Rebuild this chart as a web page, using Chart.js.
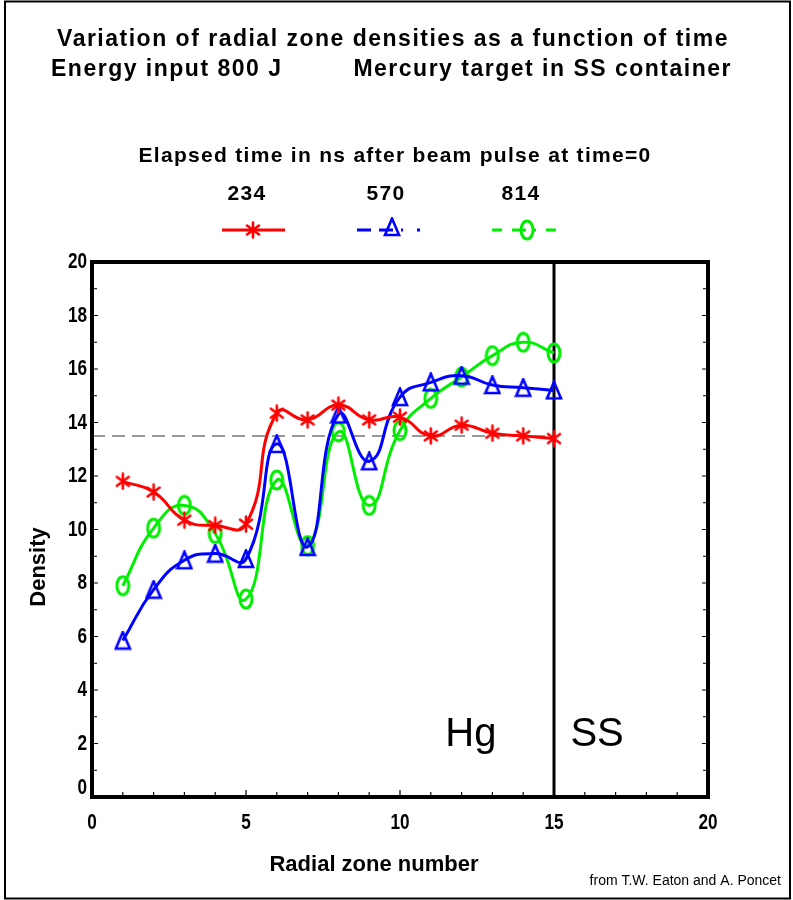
<!DOCTYPE html>
<html>
<head>
<meta charset="utf-8">
<script src="https://cdn.jsdelivr.net/npm/chart.js@4.4.1/dist/chart.umd.min.js"></script>
<style>
  html, body { margin: 0; padding: 0; background: #fff; }
  #density { display: block; }
</style>
</head>
<body>
<canvas id="density" width="793" height="900"></canvas>
<script>
// radial zones 1..15 (Hg), container boundary at 15
const zones = [1, 2, 3, 4, 5, 6, 7, 8, 9, 10, 11, 12, 13, 14, 15];
const elapsed_ns = ['234', '570', '814'];
const density_234 = [11.8, 11.4, 10.35, 10.15, 10.2, 14.35, 14.1, 14.65, 14.1, 14.2, 13.5, 13.9, 13.6, 13.5, 13.4];
const density_570 = [5.85, 7.75, 8.85, 9.1, 8.9, 13.2, 9.35, 14.3, 12.55, 14.95, 15.5, 15.75, 15.4, 15.3, 15.2];
const density_814 = [7.9, 10.05, 10.9, 9.85, 7.4, 11.85, 9.4, 13.65, 10.9, 13.7, 14.9, 15.7, 16.5, 17.0, 16.6];
const ref_density = 13.5;
const boundary_zone = 15;
const x_ticks = [0, 5, 10, 15, 20];
const y_ticks = [0, 2, 4, 6, 8, 10, 12, 14, 16, 18, 20];

const red = '#ff0000', blue = '#0000ff', green = '#00ee00';
const bold = (px) => 'bold ' + px + 'px "Liberation Sans", Arial, sans-serif';

// marker images
function marker(w, h, draw) {
  const c = document.createElement('canvas');
  c.width = w; c.height = h;
  const g = c.getContext('2d');
  g.lineCap = 'round';
  draw(g, w / 2, h / 2);
  return c;
}
const star = marker(16, 18, (g, cx, cy) => {
  g.strokeStyle = red; g.lineWidth = 2.6;
  g.beginPath();
  g.moveTo(cx, cy - 7.5); g.lineTo(cx, cy + 7.5);
  g.moveTo(cx - 6, cy - 4.5); g.lineTo(cx + 6, cy + 4.5);
  g.moveTo(cx - 6, cy + 4.5); g.lineTo(cx + 6, cy - 4.5);
  g.stroke();
});
const tri = marker(18, 20, (g, cx, cy) => {
  g.strokeStyle = blue; g.lineWidth = 2.6; g.lineJoin = 'miter';
  g.beginPath();
  g.moveTo(cx, cy - 8.5); g.lineTo(cx + 7, cy + 8); g.lineTo(cx - 7, cy + 8); g.closePath();
  g.stroke();
});
const oval = marker(16, 22, (g, cx, cy) => {
  g.strokeStyle = green; g.lineWidth = 3;
  g.beginPath();
  g.ellipse(cx, cy, 6, 9, 0, 0, Math.PI * 2);
  g.stroke();
});

const pts = (ys) => zones.map((z, i) => ({ x: z, y: ys[i] }));

// condensed text: horizontally squeezed bold digits like the original plotter font
function squeezed(ctx, txt, x, y, align) {
  ctx.save();
  ctx.translate(x, y);
  ctx.scale(0.78, 1);
  ctx.textAlign = align;
  ctx.fillText(txt, 0, 0);
  ctx.restore();
}

const decor = {
  id: 'decor',
  beforeDatasetsDraw(chart) {
    const { ctx, chartArea: a, scales: { x, y } } = chart;
    ctx.save();
    ctx.strokeStyle = '#000';
    ctx.lineWidth = 1.2;
    ctx.beginPath();
    for (let v = 1; v < 20; v++) {
      const px = x.getPixelForValue(v), py = y.getPixelForValue(v);
      const l = v % 5 === 0 ? 7 : 5;
      const ly = v % 2 === 0 ? 6 : 5;
      ctx.moveTo(px, a.bottom); ctx.lineTo(px, a.bottom - l);
      ctx.moveTo(a.left, py); ctx.lineTo(a.left + ly, py);
      ctx.moveTo(a.right, py); ctx.lineTo(a.right - ly, py);
    }
    ctx.stroke();
    ctx.restore();
  },
  afterDatasetsDraw(chart) {
    const { ctx, chartArea: a, scales: { x, y } } = chart;
    ctx.save();
    ctx.strokeStyle = '#000';
    ctx.lineWidth = 4;
    ctx.strokeRect(a.left, a.top, a.right - a.left, a.bottom - a.top);

    // tick labels
    ctx.fillStyle = '#000';
    ctx.font = bold(22);
    ctx.textBaseline = 'middle';
    y.ticks.forEach(t => {
      const py = Math.min(y.getPixelForValue(t.value), a.bottom - 9);
      squeezed(ctx, String(t.value), a.left - 5, py, 'right');
    });
    x.ticks.forEach(t => {
      squeezed(ctx, String(t.value), x.getPixelForValue(t.value), a.bottom + 26, 'center');
    });

    // region labels
    ctx.textBaseline = 'alphabetic';
    ctx.textAlign = 'center';
    ctx.font = '40px "Liberation Sans", Arial, sans-serif';
    ctx.fillText('Hg', x.getPixelForValue(12.3), y.getPixelForValue(1.9));
    ctx.fillText('SS', x.getPixelForValue(16.4), y.getPixelForValue(1.9));

    // titles
    ctx.letterSpacing = '1.5px';
    ctx.font = bold(23);
    ctx.fillText('Variation of radial zone densities as a function of time', 393, 46);
    ctx.textAlign = 'left';
    ctx.fillText('Energy input 800 J', 51, 76);
    ctx.textAlign = 'right';
    ctx.fillText('Mercury target in SS container', 732, 76);

    ctx.textAlign = 'center';
    ctx.letterSpacing = '1.3px';
    ctx.font = bold(21);
    ctx.fillText('Elapsed time in ns after beam pulse at time=0', 395, 162);

    // legend
    const keys = [
      { cx: 247, x0: 222, x1: 285, color: red, dash: [], img: star },
      { cx: 386, x0: 357, x1: 420, color: blue, dash: [14, 8, 14, 8, 2], img: tri },
      { cx: 521, x0: 492, x1: 556, color: green, dash: [10, 10, 14, 8, 2], img: oval }
    ];
    keys.forEach((k, i) => {
      ctx.font = bold(21);
      ctx.fillStyle = '#000';
      ctx.fillText(elapsed_ns[i], k.cx, 200);
      ctx.strokeStyle = k.color;
      ctx.lineWidth = 3;
      ctx.setLineDash(k.dash);
      ctx.beginPath();
      ctx.moveTo(k.x0, 230); ctx.lineTo(k.x1, 230);
      ctx.stroke();
      ctx.setLineDash([]);
      ctx.drawImage(k.img, k.cx + 6 - k.img.width / 2, 230 - k.img.height / 2 - (i === 1 ? 3 : 0));
    });

    // axis titles
    ctx.letterSpacing = '0px';
    ctx.fillStyle = '#000';
    ctx.font = bold(22);
    ctx.fillText('Radial zone number', 374, 871);
    ctx.save();
    ctx.translate(45, 567);
    ctx.rotate(-Math.PI / 2);
    ctx.fillText('Density', 0, 0);
    ctx.restore();

    ctx.font = '14px "Liberation Sans", Arial, sans-serif';
    ctx.textAlign = 'right';
    ctx.fillText('from T.W. Eaton and A. Poncet', 781, 885);

    // page border
    ctx.lineWidth = 2;
    ctx.strokeStyle = '#000';
    ctx.strokeRect(5, 1.5, 785, 897);
    ctx.restore();
  }
};

new Chart(document.getElementById('density'), {
  type: 'line',
  data: {
    datasets: [
      { label: elapsed_ns[0], data: pts(density_234), borderColor: red, borderWidth: 3, tension: 0.5,
        pointStyle: star, pointRadius: 8, order: 1 },
      { label: elapsed_ns[1], data: pts(density_570), borderColor: blue, borderWidth: 3, tension: 0.5,
        pointStyle: tri, pointRadius: 8, order: 2 },
      { label: elapsed_ns[2], data: pts(density_814), borderColor: green, borderWidth: 3, tension: 0.5,
        pointStyle: oval, pointRadius: 8, order: 3 },
      { label: 'ref', data: [{ x: 0, y: ref_density }, { x: boundary_zone, y: ref_density }],
        borderColor: '#777', borderWidth: 1.5, borderDash: [13, 7], pointRadius: 0, order: 10 },
      { label: 'boundary', data: [{ x: boundary_zone, y: 0 }, { x: boundary_zone, y: 20 }],
        borderColor: '#000', borderWidth: 3, pointRadius: 0, order: 9 }
    ]
  },
  options: {
    responsive: false,
    animation: false,
    devicePixelRatio: 1,
    layout: { padding: { top: 262, right: 85, left: 0, bottom: 0 } },
    plugins: { legend: { display: false }, tooltip: { enabled: false } },
    scales: {
      x: {
        type: 'linear', min: 0, max: 20,
        afterFit: (s) => { s.height = 103; },
        afterBuildTicks: (s) => { s.ticks = x_ticks.map(v => ({ value: v })); },
        ticks: { display: false },
        grid: { display: false },
        border: { display: false }
      },
      y: {
        min: 0, max: 20,
        afterFit: (s) => { s.width = 92; },
        afterBuildTicks: (s) => { s.ticks = y_ticks.map(v => ({ value: v })); },
        ticks: { display: false },
        grid: { display: false },
        border: { display: false }
      }
    }
  },
  plugins: [decor]
});
</script>
</body>
</html>
